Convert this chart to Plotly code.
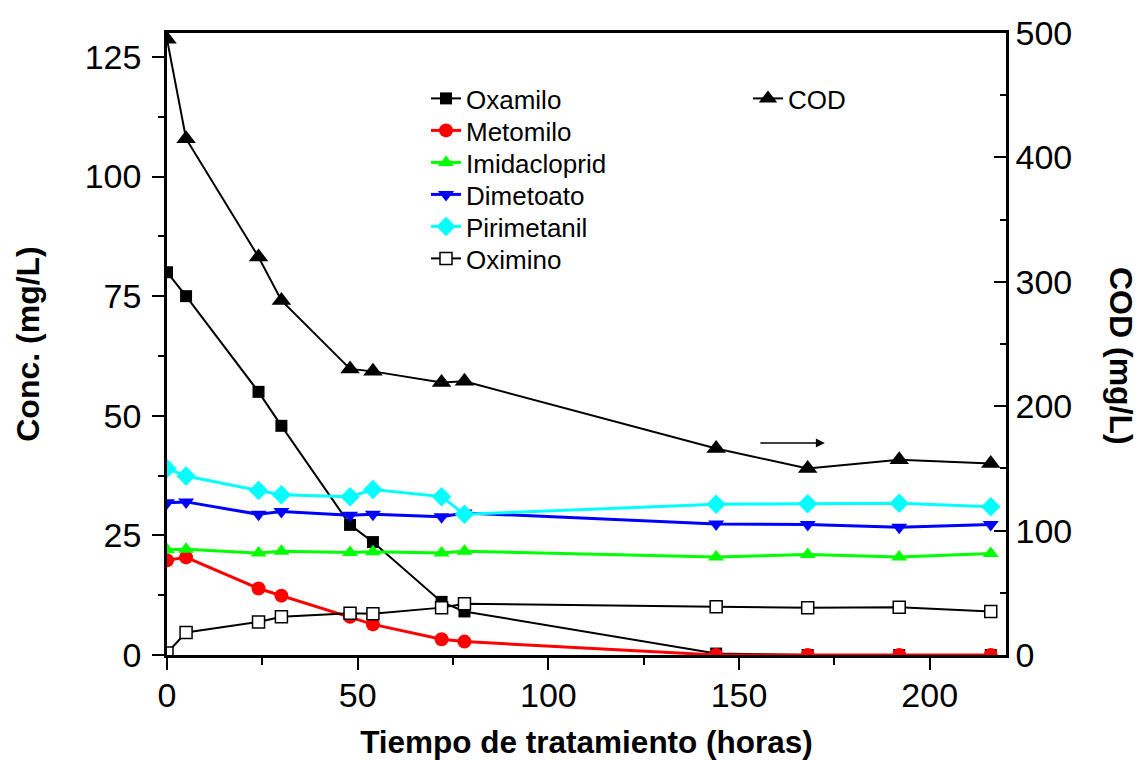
import plotly.graph_objects as go

# Sampling times (h)
tiempo = [0, 5, 24, 30, 48, 54, 72, 78, 144, 168, 192, 216]

# Pesticide concentrations (mg/L)
oxamilo = [80.0, 75.0, 55.0, 47.9, 27.2, 23.6, 11.1, 9.1, 0.3, 0.0, 0.0, 0.0]
metomilo = [19.8, 20.4, 13.9, 12.4, 8.0, 6.4, 3.3, 2.8, 0.0, 0.0, 0.0, 0.0]
imidacloprid = [22.0, 22.1, 21.3, 21.7, 21.4, 21.6, 21.3, 21.7, 20.5, 21.0, 20.5, 21.2]
dimetoato = [31.8, 32.0, 29.4, 30.0, 29.2, 29.4, 28.9, 29.7, 27.4, 27.3, 26.7, 27.3]
pirimetanil = [39.0, 37.4, 34.4, 33.5, 33.1, 34.6, 33.1, 29.4, 31.5, 31.6, 31.7, 31.0]
oximino = [0.4, 4.7, 6.9, 8.0, 8.7, 8.6, 9.9, 10.7, 10.1, 9.9, 10.0, 9.1]

# Chemical oxygen demand (mg/L), right axis
cod = [495, 415, 320, 285, 230, 228, 219, 220, 166, 150, 157, 154]

FONT = "Liberation Sans, Arial, sans-serif"

# Plot area in pixels
W, H = 1141, 760
L, R, T, B = 167, 1006, 33, 655
PW, PH = R - L, B - T

def px(xp):
    return (xp - L) / PW

def py(yp):
    return (B - yp) / PH

fig = go.Figure()

series = [
    ("Oxamilo", oxamilo, "#000000", 2, dict(symbol="square", size=12, color="#000000")),
    ("Metomilo", metomilo, "#FF0000", 3, dict(symbol="circle", size=14, color="#FF0000")),
    ("Imidacloprid", imidacloprid, "#00FF00", 3, dict(symbol="triangle-up", size=14, color="#00FF00")),
    ("Dimetoato", dimetoato, "#0000FF", 3, dict(symbol="triangle-down", size=14, color="#0000FF")),
    ("Pirimetanil", pirimetanil, "#00FFFF", 3, dict(symbol="diamond", size=15, color="#00FFFF")),
    ("Oximino", oximino, "#000000", 2,
     dict(symbol="square", size=12, color="#FFFFFF", line=dict(color="#000000", width=1.5))),
]

legend_font = dict(family=FONT, size=26, color="#000000")
legend_layout = {}
row_y = [99, 131, 163, 195, 227, 259]

for i, (name, vals, color, lw, marker) in enumerate(series):
    key = "legend" if i == 0 else f"legend{i + 1}"
    fig.add_trace(go.Scatter(
        x=tiempo, y=vals, name=name, mode="lines+markers",
        line=dict(color=color, width=lw), marker=marker,
        legend=key, yaxis="y",
    ))
    legend_layout[key] = dict(
        x=px(426), y=py(row_y[i] - 24), xanchor="left", yanchor="top",
        bgcolor="rgba(0,0,0,0)", font=legend_font, itemwidth=30,
    )

fig.add_trace(go.Scatter(
    x=tiempo, y=cod, name="COD", mode="lines+markers",
    line=dict(color="#000000", width=2),
    marker=dict(symbol="triangle-up", size=17, color="#000000"),
    legend="legend7", yaxis="y2",
))
legend_layout["legend7"] = dict(
    x=px(748), y=py(99 - 24), xanchor="left", yanchor="top",
    bgcolor="rgba(0,0,0,0)", font=legend_font, itemwidth=30,
)

# Arrow pointing to the COD axis
fig.add_annotation(
    x=172.5, y=44.3, ax=155.2, ay=44.3,
    xref="x", yref="y", axref="x", ayref="y",
    showarrow=True, arrowhead=2, arrowsize=1.2, arrowwidth=1.5,
    arrowcolor="#000000", text="",
)

# Right-axis title
fig.add_annotation(
    x=px(1121), y=py(356), xref="paper", yref="paper",
    text="<b>COD (mg/L)</b>", textangle=90, showarrow=False,
    font=dict(family=FONT, size=32, color="#000000"),
    xanchor="center", yanchor="middle",
)

axis_common = dict(
    showline=True, linecolor="#000000", linewidth=2.5,
    showgrid=False, zeroline=False, automargin=False,
    tickfont=dict(family=FONT, size=34, color="#000000"),
    tickcolor="#000000", tickwidth=2,
)

fig.update_layout(
    width=W, height=H,
    margin=dict(l=L, r=W - R, t=T, b=H - B),
    paper_bgcolor="#FFFFFF", plot_bgcolor="#FFFFFF",
    font=dict(family=FONT, color="#000000"),
    xaxis=dict(
        range=[0, 220], dtick=50, tick0=0, ticks="outside", ticklen=12,
        mirror=True, ticklabelstandoff=-4,
        minor=dict(dtick=25, ticks="outside", ticklen=7, tickcolor="#000000", tickwidth=2),
        title=dict(text="<b>Tiempo de tratamiento (horas)</b>",
                   font=dict(family=FONT, size=31.5, color="#000000"), standoff=30),
        **axis_common,
    ),
    yaxis=dict(
        range=[0, 130], dtick=25, tick0=0, ticks="outside", ticklen=12,
        ticklabelstandoff=4,
        minor=dict(dtick=12.5, ticks="outside", ticklen=6, tickcolor="#000000", tickwidth=2),
        title=dict(text="<b>Conc. (mg/L)</b>",
                   font=dict(family=FONT, size=32, color="#000000"), standoff=36),
        **axis_common,
    ),
    yaxis2=dict(
        range=[0, 500], dtick=100, tick0=0, ticks="inside", ticklen=12,
        overlaying="y", side="right",
        minor=dict(dtick=50, ticks="inside", ticklen=6, tickcolor="#000000", tickwidth=2),
        **axis_common,
    ),
    showlegend=True,
    **legend_layout,
)

fig.write_html("out.html")
